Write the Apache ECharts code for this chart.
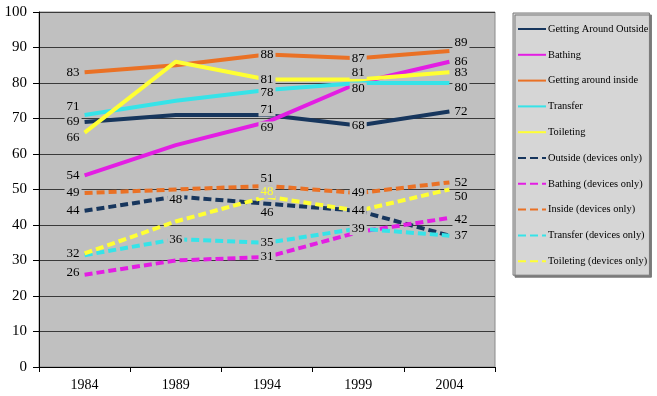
<!DOCTYPE html>
<html>
<head>
<meta charset="utf-8">
<script src="https://cdn.jsdelivr.net/npm/echarts@6/dist/echarts.min.js"></script>
<style>
  html, body { margin: 0; padding: 0; background: #fff; }
  #chart { width: 657px; height: 396px; }
</style>
</head>
<body>
<div id="chart"></div>
<script>
// values
var years = ['1984', '1989', '1994', '1999', '2004'];
var yTicks = [0, 10, 20, 30, 40, 50, 60, 70, 80, 90, 100];

var names = [
  'Getting Around Outside', 'Bathing', 'Getting around inside', 'Transfer', 'Toileting',
  'Outside (devices only)', 'Bathing (devices only)', 'Inside (devices only)',
  'Transfer (devices only)', 'Toileting (devices only)'
];
var outside = [69, 71, 71, 68, 72];
var bathing = [54, 62.5, 69, 80, 86];
var inside = [83, 85, 88, 87, 89];
var transfer = [71, 75, 78, 80, 80];
var toileting = [66, 86, 81, 81, 83];
var outsideDev = [44, 48, 46, 44, 37];
var bathingDev = [26, 30, 31, 38, 42];
var insideDev = [49, 50, 51, 49, 52];
var transferDev = [31.5, 36, 35, 39, 37];
var toiletingDev = [32, 41, 48, 44, 50];

var values = [outside, bathing, inside, transfer, toileting,
  outsideDev, bathingDev, insideDev, transferDev, toiletingDev];
var colors = ['#17365d', '#e31ee3', '#ea7125', '#36e3e8', '#ffff33',
  '#17365d', '#e31ee3', '#ea7125', '#36e3e8', '#ffff33'];

// which points carry a label, and a small vertical nudge [index, dy]
var labelAt = [
  [[0, 0], [2, -5], [3, 0], [4, 0]],
  [[0, 0], [2, 6], [3, 6], [4, 0]],
  [[0, 0], [2, 0], [3, 0], [4, -8]],
  [[0, -8], [2, 2], [4, 5]],
  [[0, 5], [2, 0], [3, -7], [4, 0]],
  [[0, 0], [1, 3], [2, 9], [3, 0], [4, 0]],
  [[0, -2], [2, 0], [4, 2]],
  [[0, 0], [2, -7], [3, 0], [4, 0]],
  [[1, 0], [2, 0], [3, 0]],
  [[0, 0], [2, -5], [4, 7]]
];

var plotBg = '#c0c0c0';
var serif = '"Liberation Serif", "DejaVu Serif", serif';

function buildData(i) {
  var spec = {};
  labelAt[i].forEach(function (p) { spec[p[0]] = p[1]; });
  return values[i].map(function (v, k) {
    if (!(k in spec)) return { value: v, label: { show: false } };
    var pos = k === 0 ? 'left' : (k === 4 ? 'right' : 'inside');
    return {
      value: v,
      label: {
        show: true,
        position: pos,
        distance: 3,
        offset: [0, spec[k]],
        color: (i === 9 && k === 2) ? '#ffff33' : '#000',
        formatter: String(Math.round(v))
      }
    };
  });
}

var series = names.map(function (n, i) {
  return {
    name: n,
    type: 'line',
    symbol: 'circle',
    symbolSize: 0.1,
    showSymbol: true,
    data: buildData(i),
    lineStyle: {
      color: colors[i],
      width: 4,
      type: i >= 5 ? [8, 4] : 'solid',
      cap: 'butt'
    },
    itemStyle: { color: colors[i] },
    label: {
      show: true,
      fontFamily: serif,
      fontSize: 13,
      backgroundColor: plotBg,
      padding: [0, 2]
    },
    emphasis: { disabled: true },
    z: 2
  };
});

var chart = echarts.init(document.getElementById('chart'));
chart.setOption({
  animation: false,
  backgroundColor: '#fff',
  grid: {
    left: 39, right: 162, top: 12, bottom: 29,
    show: true, backgroundColor: plotBg, borderColor: '#8a8a8a', borderWidth: 1
  },
  legend: {
    orient: 'vertical',
    left: 513, top: 13,
    padding: [11, 1, 9, 4],
    itemGap: 15.8,
    itemWidth: 28, itemHeight: 4,
    backgroundColor: '#d6d6d6',
    borderColor: '#7a7a7a', borderWidth: 1,
    shadowColor: '#7a7a7a', shadowOffsetX: 2, shadowOffsetY: 2, shadowBlur: 0,
    itemStyle: { opacity: 0 },
    textStyle: { fontFamily: serif, fontSize: 10.4, color: '#000', padding: [0, 0, 0, -3] },
    data: names
  },
  xAxis: {
    type: 'category',
    data: years,
    boundaryGap: true,
    axisLine: { lineStyle: { color: '#000', width: 1 } },
    axisTick: { show: true, length: 5, lineStyle: { color: '#000' } },
    axisLabel: { fontFamily: serif, fontSize: 14, color: '#000', margin: 11 }
  },
  yAxis: {
    type: 'value',
    min: yTicks[0], max: yTicks[yTicks.length - 1], interval: 10,
    axisLine: { show: true, lineStyle: { color: '#000', width: 1 } },
    axisTick: { show: true, length: 6, lineStyle: { color: '#000' } },
    axisLabel: { fontFamily: serif, fontSize: 15, color: '#000', margin: 12 },
    splitLine: { show: true, lineStyle: { color: '#3a3a3a', width: 1 } }
  },
  series: series
});
</script>
</body>
</html>
